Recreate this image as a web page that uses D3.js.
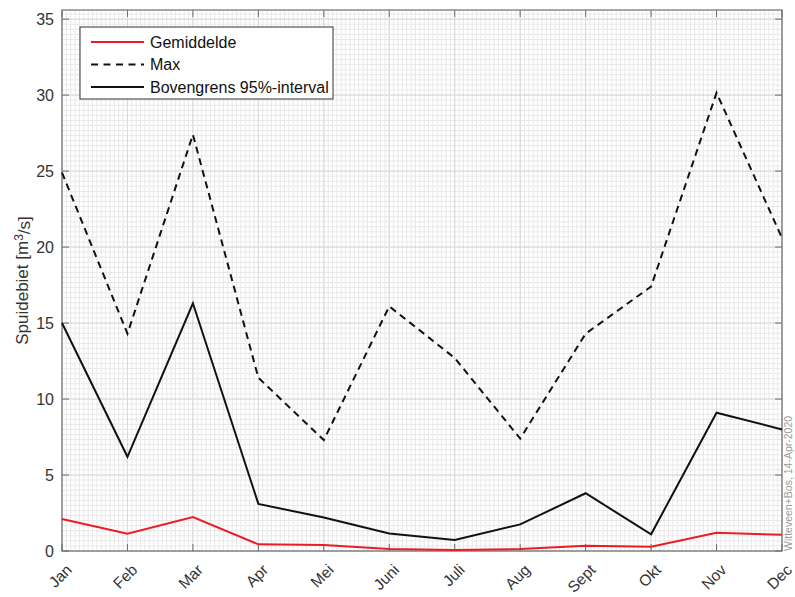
<!DOCTYPE html>
<html>
<head>
<meta charset="utf-8">
<script src="https://cdn.jsdelivr.net/npm/d3@7"></script>
<style>
  html, body { margin: 0; padding: 0; background: #fff; }
  svg { display: block; font-family: "Liberation Sans", Arial, sans-serif; }
</style>
</head>
<body>
<svg id="chart" width="795" height="597"></svg>
<script>
// Monthly discharge statistics
const months = ["Jan", "Feb", "Mar", "Apr", "Mei", "Juni", "Juli", "Aug", "Sept", "Okt", "Nov", "Dec"];
const gemiddelde = [2.1, 1.14, 2.24, 0.44, 0.4, 0.13, 0.07, 0.13, 0.35, 0.28, 1.2, 1.07];
const maxValues = [24.9, 14.3, 27.4, 11.4, 7.3, 16.1, 12.7, 7.4, 14.3, 17.4, 30.15, 20.6];
const bovengrens = [15.0, 6.2, 16.3, 3.1, 2.2, 1.15, 0.72, 1.75, 3.8, 1.1, 9.1, 8.0];
const yTicks = [0, 5, 10, 15, 20, 25, 30, 35];
const yMax = 35.6;

const series = [
  { name: "Gemiddelde", values: gemiddelde, color: "#ec1c24", dash: null },
  { name: "Max", values: maxValues, color: "#111", dash: "7,5" },
  { name: "Bovengrens 95%-interval", values: bovengrens, color: "#111", dash: null }
];

const svg = d3.select("#chart");
const margin = { left: 62, right: 13, top: 10, bottom: 46 };
const W = 795, H = 597;
const iw = W - margin.left - margin.right;
const ih = H - margin.top - margin.bottom;

const x = d3.scalePoint().domain(months).range([0, iw]);
const y = d3.scaleLinear().domain([0, yMax]).range([ih, 0]);

const g = svg.append("g").attr("transform", `translate(${margin.left},${margin.top})`);

// minor grid (15 subdivisions per major step)
const step = x.step();
const minorX = [];
for (let i = 0; i <= 11 * 15; i++) minorX.push(i * step / 15);
const minorY = [];
for (let v = 0; v <= yMax + 1e-9; v += 5 / 15) minorY.push(v);

g.append("g").selectAll("line").data(minorX).join("line")
  .attr("x1", d => d).attr("x2", d => d).attr("y1", 0).attr("y2", ih)
  .attr("stroke", "#e8e8e8").attr("stroke-width", 1);
g.append("g").selectAll("line").data(minorY).join("line")
  .attr("x1", 0).attr("x2", iw).attr("y1", d => y(d)).attr("y2", d => y(d))
  .attr("stroke", "#e8e8e8").attr("stroke-width", 1);

// major grid
g.append("g").selectAll("line").data(months).join("line")
  .attr("x1", d => x(d)).attr("x2", d => x(d)).attr("y1", 0).attr("y2", ih)
  .attr("stroke", "#d8d8d8").attr("stroke-width", 1);
g.append("g").selectAll("line").data(yTicks).join("line")
  .attr("x1", 0).attr("x2", iw).attr("y1", d => y(d)).attr("y2", d => y(d))
  .attr("stroke", "#d8d8d8").attr("stroke-width", 1);

// axes box
const axisColor = "#6e6e6e";
g.append("rect").attr("x", 0).attr("y", 0).attr("width", iw).attr("height", ih)
  .attr("fill", "none").attr("stroke", axisColor).attr("stroke-width", 1.2);

// y axis
const yAxis = g.append("g").call(d3.axisLeft(y).tickValues(yTicks).tickSize(0).tickPadding(8));
yAxis.select(".domain").remove();
yAxis.selectAll("text").attr("font-size", 16).attr("fill", "#333")
  .attr("font-family", "'Liberation Sans', Arial, sans-serif");
// inner ticks on left and right
g.append("g").selectAll("line").data(yTicks).join("line")
  .attr("x1", 0).attr("x2", 7).attr("y1", d => y(d)).attr("y2", d => y(d))
  .attr("stroke", axisColor);
g.append("g").selectAll("line").data(yTicks).join("line")
  .attr("x1", iw - 7).attr("x2", iw).attr("y1", d => y(d)).attr("y2", d => y(d))
  .attr("stroke", axisColor);
// inner ticks on bottom and top
g.append("g").selectAll("line").data(months).join("line")
  .attr("x1", d => x(d)).attr("x2", d => x(d)).attr("y1", ih).attr("y2", ih - 7)
  .attr("stroke", axisColor);
g.append("g").selectAll("line").data(months).join("line")
  .attr("x1", d => x(d)).attr("x2", d => x(d)).attr("y1", 0).attr("y2", 7)
  .attr("stroke", axisColor);

// x tick labels, rotated
g.append("g").selectAll("text").data(months).join("text")
  .attr("transform", d => `translate(${x(d) + 3},${ih + 12}) rotate(-45)`)
  .attr("text-anchor", "end")
  .attr("dy", "0.72em")
  .attr("font-size", 15.5).attr("fill", "#333")
  .text(d => d);

// y label
const yl = svg.append("text")
  .attr("transform", `translate(28,${margin.top + ih / 2}) rotate(-90)`)
  .attr("text-anchor", "middle")
  .attr("font-size", 17).attr("fill", "#333");
yl.append("tspan").text("Spuidebiet [m");
yl.append("tspan").attr("dy", "-0.45em").attr("font-size", 12).text("3");
yl.append("tspan").attr("dy", "0.45em").text("/s]");

// series lines
const line = d3.line().x((d, i) => x(months[i])).y(d => y(d));
g.append("g").selectAll("path").data(series).join("path")
  .attr("d", d => line(d.values))
  .attr("fill", "none")
  .attr("stroke", d => d.color)
  .attr("stroke-width", 2)
  .attr("stroke-dasharray", d => d.dash)
  .attr("stroke-linejoin", "miter");

// legend
const lg = svg.append("g").attr("transform", "translate(80,27)");
lg.append("rect").attr("width", 253).attr("height", 72)
  .attr("fill", "#fff").attr("stroke", "#333").attr("stroke-width", 1);
const items = lg.selectAll("g").data(series).join("g")
  .attr("transform", (d, i) => `translate(0,${15 + i * 22.5})`);
items.append("line").attr("x1", 11).attr("x2", 64).attr("y1", 0).attr("y2", 0)
  .attr("stroke", d => d.color).attr("stroke-width", 2)
  .attr("stroke-dasharray", d => d.dash ? "7,5.5" : null);
items.append("text").attr("x", 70).attr("dy", "0.36em")
  .attr("font-size", 16).attr("fill", "#111").text(d => d.name);

// stamp
svg.append("text")
  .attr("transform", `translate(${margin.left + iw + 10},${margin.top + ih}) rotate(-90)`)
  .attr("text-anchor", "start")
  .attr("font-size", 10.5).attr("fill", "#9a9a9a")
  .text("Witteveen+Bos, 14-Apr-2020");
</script>
</body>
</html>
